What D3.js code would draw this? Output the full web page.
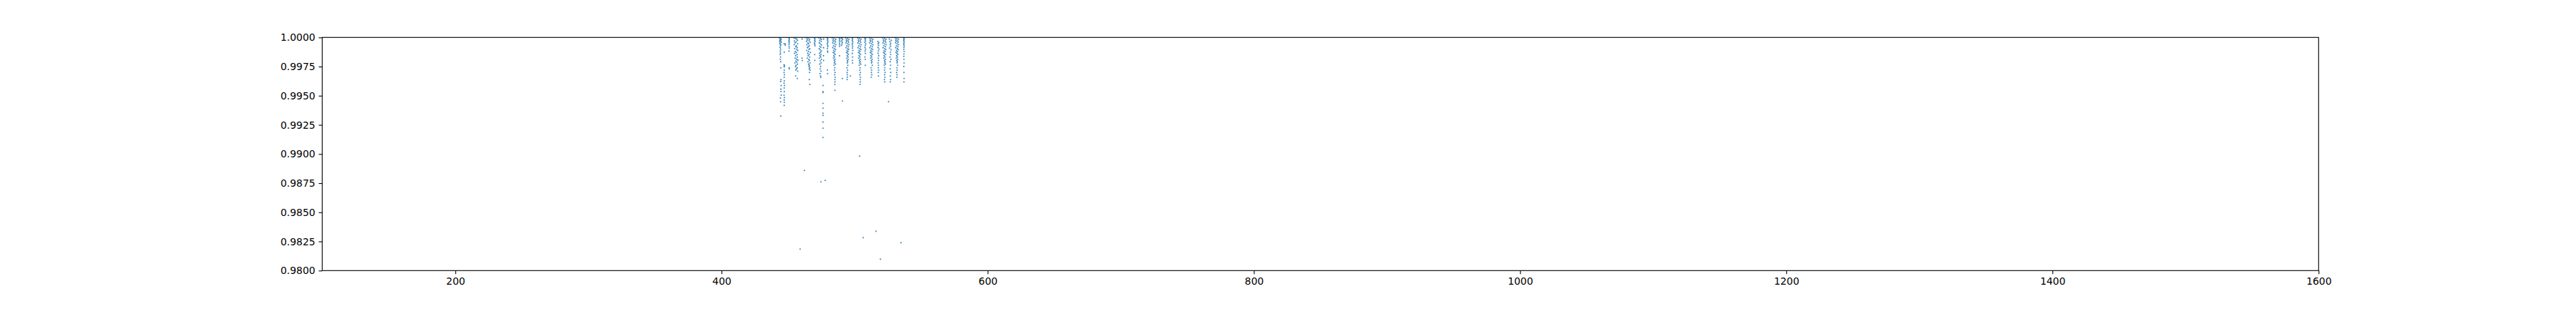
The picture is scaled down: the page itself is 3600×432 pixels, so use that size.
<!DOCTYPE html>
<html>
<head>
<meta charset="utf-8">
<script src="https://cdn.jsdelivr.net/npm/d3@7"></script>
<style>
html,body{margin:0;padding:0;background:#fff;}
svg{display:block;}
.tick text{font-family:"DejaVu Sans",sans-serif;font-size:13.9px;fill:#000;}
</style>
</head>
<body>
<svg id="chart" width="3600" height="432"></svg>
<script>
// ---- data ----
const xDomain = [100, 1600];
const yDomain = [0.98, 1.0];
const xTicks = [200, 400, 600, 800, 1000, 1200, 1400, 1600];
const yTicks = [0.98, 0.9825, 0.985, 0.9875, 0.99, 0.9925, 0.995, 0.9975, 1.0];

const stripA = [[443.6,.99996],[444.2,.9999],[444.8,.99984],[443.9,.99978],[444.5,.99971],[443.7,.99965],[444.9,.99959],[444.1,.99953],[443.8,.99945],[444.6,.99937],[444.3,.99928],[444.0,.99914],[444.4,.999],[444.2,.99883],[444.3,.99867],[444.1,.99853],[444.4,.99832],[444.2,.99812],[444.5,.99791],[444.6,.9974],[444.7,.99638],[444.5,.99622],[444.8,.99587],[444.6,.99556],[444.7,.99536],[444.9,.99505],[444.2,.9948],[444.4,.99448],[444.6,.99325]];
const stripA2 = [[447.0,.99945],[447.2,.99873],[447.0,.99765],[447.3,.99757],[447.1,.99748],[447.2,.9972],[447.0,.99699],[447.3,.99679],[447.1,.99658],[447.2,.99628],[447.0,.99607],[447.3,.99587],[447.1,.99566],[447.2,.99536],[447.0,.99505],[447.3,.99485],[447.1,.99464],[447.2,.99444],[447.1,.99417],[447.9,.99945],[447.9,.99935]];
const stripB = [[450.7,.99996],[450.9,.99986],[450.8,.99975],[450.6,.99965],[450.9,.99955],[450.7,.99941],[450.8,.99924],[450.9,.99908],[450.7,.99883],[450.8,.9974],[450.9,.9973]];
const stripC = [[454.5,.99996],[455.5,.9999],[456.5,.99986],[457.0,.99975],[454.8,.99969],[456.0,.99961],[455.2,.99953],[457.2,.99945],[454.6,.99937],[456.3,.99928],[455.8,.9992],[456.9,.99912],[455.0,.99904],[456.5,.99896],[457.3,.99888],[455.4,.99879],[456.2,.99871],[454.9,.99863],[456.8,.99853],[455.7,.99843],[457.0,.99832],[455.3,.99822],[456.4,.99814],[457.4,.99806],[455.9,.99798],[456.6,.99789],[455.2,.99781],[457.1,.99771],[456.1,.99761],[455.6,.99751],[456.9,.9974],[456.3,.9973],[455.8,.9972],[457.2,.9971],[455.7,.99669],[457.0,.99648]];
const stripD = [[460.6,.99986],[460.5,.99822],[460.7,.99802]];
const stripE = [[463.8,.99996],[465.0,.9999],[466.2,.99984],[464.4,.99978],[465.8,.99971],[463.9,.99965],[466.6,.99959],[464.9,.99953],[465.5,.99945],[464.2,.99937],[466.0,.99928],[465.2,.9992],[464.6,.99912],[466.4,.99904],[465.7,.99896],[464.0,.99888],[465.3,.99879],[466.8,.99871],[464.8,.99863],[465.9,.99853],[465.1,.99843],[466.3,.99832],[464.5,.99822],[465.6,.99812],[466.1,.99802],[465.0,.99791],[466.5,.99781],[465.4,.99771],[466.0,.99761],[465.8,.99751],[466.4,.9974],[465.9,.9973],[466.6,.9972],[466.2,.99699],[466.0,.99638],[466.4,.99597]];
const stripF = [[469.9,.99996],[470.2,.99986],[470.0,.99975],[470.3,.99965],[469.9,.99953],[470.1,.99941],[470.2,.99928],[470.0,.99853],[470.1,.99802]];
const stripG = [[473.3,.99996],[474.5,.9999],[475.1,.99982],[473.8,.99975],[474.9,.99965],[473.5,.99955],[474.2,.99945],[475.2,.99935],[473.9,.99924],[474.7,.99914],[473.4,.99904],[474.1,.99894],[475.0,.99883],[474.4,.99873],[473.7,.99863],[474.8,.99853],[474.0,.99843],[474.6,.99832],[473.6,.99822],[475.1,.99812],[474.3,.99798],[474.9,.99781],[473.8,.99771],[474.5,.99751],[474.2,.9973],[474.7,.9971],[474.0,.99689],[474.4,.99669],[474.6,.99658]];
const stripH = [[476.3,.99587],[476.4,.99536],[476.2,.99526],[476.3,.99434],[476.3,.99393],[476.3,.9935],[476.3,.99331],[476.3,.99274],[476.3,.99221],[476.3,.99141],[476.7,.99986],[476.7,.99912],[476.6,.99843],[476.7,.99802]];
const stripI = [[479.5,.99996],[479.9,.99988],[479.6,.99978],[480.0,.99967],[479.7,.99955],[479.5,.99943],[479.9,.99931],[479.8,.9992],[479.6,.99904],[479.7,.99883],[479.8,.99873],[479.6,.9972],[479.7,.99689]];
const stripJ = [[483.2,.99996],[484.5,.9999],[485.8,.99984],[483.8,.99978],[485.2,.99971],[484.0,.99965],[485.6,.99959],[483.5,.99953],[484.8,.99945],[485.9,.99937],[484.2,.99928],[485.4,.9992],[483.6,.99912],[484.9,.99904],[485.7,.99896],[484.3,.99888],[485.1,.99879],[483.9,.99871],[484.7,.99863],[485.5,.99853],[484.4,.99843],[485.0,.99832],[484.1,.99822],[485.3,.99812],[484.6,.99802],[485.2,.99791],[484.8,.99781],[485.6,.99771],[484.5,.99761],[485.1,.9974],[484.9,.9972],[485.3,.99699],[485.0,.99679],[485.4,.99658],[485.2,.99638],[485.3,.99618],[485.1,.99597],[485.2,.99546]];
const stripK = [[488.6,.99996],[488.8,.99986],[488.7,.99975],[488.9,.99963],[488.6,.9995],[488.8,.99937],[488.7,.99924],[488.7,.99843]];
const stripL = [[490.0,.99996],[490.6,.9999],[491.0,.9998],[490.3,.99969],[490.8,.99957],[490.5,.99945],[490.2,.99931],[490.9,.99648],[490.9,.99454]];
const stripM = [[493.3,.99996],[494.6,.9999],[495.7,.99984],[493.8,.99978],[495.1,.99971],[494.0,.99965],[495.5,.99959],[493.5,.99953],[494.8,.99945],[495.8,.99937],[494.2,.99928],[495.3,.9992],[493.6,.99912],[494.9,.99904],[495.6,.99896],[494.3,.99888],[495.0,.99879],[493.9,.99871],[494.7,.99863],[495.4,.99853],[494.4,.99843],[495.1,.99832],[494.1,.99822],[495.2,.99812],[494.6,.99802],[494.8,.99791],[494.5,.99781],[494.9,.99761],[494.3,.9974],[494.7,.9972],[494.4,.99699],[494.6,.99679],[494.5,.99658],[494.4,.99638]];
const stripN = [[498.2,.99996],[498.5,.99986],[498.3,.99975],[498.6,.99963],[498.4,.9995],[498.3,.99937],[498.5,.99924],[498.4,.99908],[498.6,.99888],[498.3,.99863],[498.5,.99832],[498.4,.99802],[498.5,.99781],[496.8,.99669]];
const stripO = [[502.3,.99996],[503.6,.9999],[504.8,.99984],[502.8,.99978],[504.2,.99971],[503.0,.99965],[504.6,.99959],[502.5,.99953],[503.8,.99945],[504.9,.99937],[503.2,.99928],[504.4,.9992],[502.6,.99912],[503.9,.99904],[504.7,.99896],[503.3,.99888],[504.1,.99879],[502.9,.99871],[503.7,.99863],[504.5,.99853],[503.4,.99843],[504.0,.99832],[503.1,.99822],[504.3,.99812],[503.6,.99802],[504.2,.99791],[503.8,.99781],[504.6,.99771],[503.5,.99761],[504.1,.9974],[503.9,.9972],[504.3,.99699],[504.0,.99679],[504.4,.99658],[504.2,.99638],[504.3,.99618],[504.1,.99597]];
const stripP = [[507.6,.99996],[508.3,.9999],[507.9,.9998],[508.2,.99969],[507.7,.99957],[508.4,.99945],[508.0,.99931],[507.8,.99914],[508.2,.999],[507.9,.99883],[508.1,.99863],[507.8,.99832],[508.0,.99812],[508.1,.99761]];
const stripQ = [[511.2,.99996],[512.5,.9999],[513.7,.99984],[511.7,.99978],[513.1,.99971],[511.9,.99965],[513.5,.99959],[511.4,.99953],[512.7,.99945],[513.8,.99937],[512.1,.99928],[513.3,.9992],[511.5,.99912],[512.8,.99904],[513.6,.99896],[512.2,.99888],[513.0,.99879],[511.8,.99871],[512.6,.99863],[513.4,.99853],[512.3,.99843],[512.9,.99832],[512.0,.99822],[513.2,.99812],[512.5,.99802],[513.0,.99791],[512.7,.99781],[513.3,.99761],[512.4,.9974],[512.8,.9972],[512.6,.99699],[512.9,.99679],[512.5,.99658]];
const stripR = [[517.5,.99965],[518.2,.99955],[517.7,.99945],[518.0,.99931],[517.6,.99914],[518.3,.999],[517.9,.99883],[517.7,.99863],[518.1,.99843],[517.8,.99822],[518.0,.99802],[517.7,.99781],[517.9,.99761],[517.8,.9974],[518.0,.9972],[517.8,.99699],[517.9,.99669]];
const stripS = [[521.1,.99996],[522.4,.9999],[523.6,.99984],[521.6,.99978],[523.0,.99971],[521.8,.99965],[523.4,.99959],[521.3,.99953],[522.6,.99945],[523.7,.99937],[522.0,.99928],[523.2,.9992],[521.4,.99912],[522.7,.99904],[523.5,.99896],[522.1,.99888],[522.9,.99879],[521.7,.99871],[522.5,.99863],[523.3,.99853],[522.2,.99843],[522.8,.99832],[521.9,.99822],[523.1,.99812],[522.4,.99802],[522.9,.99791],[522.6,.99781],[523.2,.99771],[522.3,.99761],[522.7,.9974],[522.5,.9972],[522.9,.99699],[522.6,.99679],[522.8,.99658],[522.4,.99638],[522.7,.99618]];
const stripT = [[526.1,.99986],[527.5,.99975],[526.5,.99963],[527.2,.9995],[526.8,.99937],[527.0,.99924],[526.3,.99908],[527.4,.99894],[526.9,.99873],[527.1,.99853],[526.6,.99832],[527.3,.99812],[526.8,.99791],[527.0,.99761],[526.7,.9973],[527.1,.99699],[526.9,.99669],[527.0,.99638],[526.8,.99618],[525.5,.99448]];
const stripU = [[530.6,.99996],[531.8,.9999],[532.9,.99984],[531.0,.99978],[532.4,.99971],[531.2,.99965],[532.7,.99959],[530.8,.99953],[532.0,.99945],[533.0,.99937],[531.4,.99928],[532.5,.9992],[530.9,.99912],[532.1,.99904],[532.8,.99896],[531.5,.99888],[532.3,.99879],[531.1,.99871],[531.9,.99863],[532.6,.99853],[531.6,.99843],[532.2,.99832],[531.3,.99822],[532.4,.99812],[531.7,.99802],[532.1,.99791],[531.9,.99781],[532.3,.99761],[531.8,.9974],[532.0,.9972],[531.6,.99699],[531.9,.99679],[531.8,.99658]];
const stripV = [[537.0,.99996],[537.2,.9999],[537.1,.99982],[537.0,.99973],[537.2,.99963],[537.1,.99953],[537.0,.99941],[537.2,.99928],[537.1,.99914],[537.0,.99898],[537.2,.99879],[537.1,.99858],[537.0,.99837],[537.1,.99812],[537.2,.99781],[537.0,.99751],[537.1,.99699],[537.2,.99648],[537.1,.99618]];
const outliers = [[462.3,.98859],[474.7,.98761],[477.9,.98773],[503.8,.98982],[459.1,.98184],[506.5,.98282],[516.1,.98337],[534.9,.98239],[519.4,.98098]];

const points = [].concat(stripA, stripA2, stripB, stripC, stripD, stripE, stripF, stripG, stripH,
  stripI, stripJ, stripK, stripL, stripM, stripN, stripO, stripP, stripQ, stripR, stripS,
  stripT, stripU, stripV, outliers);

// ---- layout ----
const plotLeft = 450.3, plotRight = 3240.3, plotTop = 52.3, plotBottom = 378.3;
const pt = 100 / 72;

const svg = d3.select("#chart");
const xScale = d3.scaleLinear().domain(xDomain).range([plotLeft, plotRight]);
const yScale = d3.scaleLinear().domain(yDomain).range([plotBottom, plotTop]);

// points
svg.append("g")
  .selectAll("circle")
  .data(points)
  .join("circle")
  .attr("cx", d => xScale(d[0]))
  .attr("cy", d => yScale(d[1]))
  .attr("r", 1.05)
  .attr("fill", "#1f77b4")
  .attr("fill-opacity", 0.85);

// axes
const xAxis = d3.axisBottom(xScale).tickValues(xTicks).tickFormat(d3.format("d"))
  .tickSize(3.5 * pt).tickPadding(3.5 * pt);
const yAxis = d3.axisLeft(yScale).tickValues(yTicks).tickFormat(d3.format(".4f"))
  .tickSize(3.5 * pt).tickPadding(3.5 * pt);

const gx = svg.append("g").attr("transform", `translate(0,${plotBottom})`).call(xAxis);
const gy = svg.append("g").attr("transform", `translate(${plotLeft},0)`).call(yAxis);
[gx, gy].forEach(g => {
  g.select(".domain").remove();
  g.selectAll(".tick line").attr("stroke", "#000").attr("stroke-width", 0.8 * pt);
});

// frame (spines)
svg.append("rect")
  .attr("x", plotLeft).attr("y", plotTop)
  .attr("width", plotRight - plotLeft).attr("height", plotBottom - plotTop)
  .attr("fill", "none").attr("stroke", "#000").attr("stroke-width", 0.8 * pt);
</script>
</body>
</html>
